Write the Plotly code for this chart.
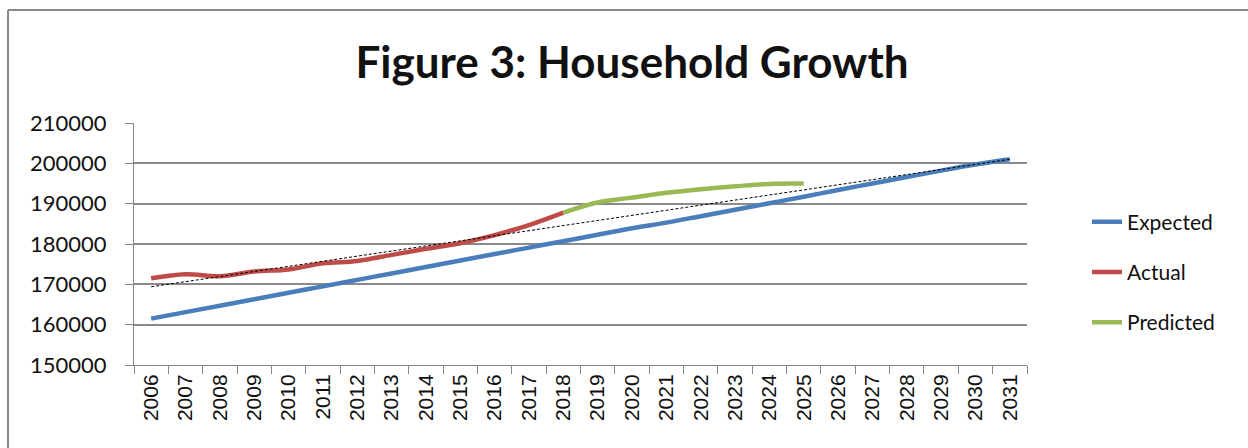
import plotly.graph_objects as go

years = [str(y) for y in range(2006, 2032)]

expected = [161500, 163100, 164700, 166300, 167900, 169500, 171100, 172700,
            174300, 175900, 177500, 179100, 180700, 182300, 183900, 185300,
            186900, 188500, 190100, 191700, 193400, 195000, 196600, 198200,
            199700, 201000]

actual_years = [str(y) for y in range(2006, 2019)]
actual = [171500, 172500, 172000, 173200, 173700, 175200, 175800, 177300,
          178800, 180200, 182200, 184700, 187800]

predicted_years = [str(y) for y in range(2018, 2026)]
predicted = [187800, 190300, 191500, 192700, 193600, 194300, 194900, 195000]

trend_years = ["2006", "2031"]
trend = [169400, 201000]

y_ticks = [150000, 160000, 170000, 180000, 190000, 200000, 210000]

fig = go.Figure()
fig.add_trace(go.Scatter(x=years, y=expected, name="Expected", mode="lines",
                         line=dict(color="#4A7EBB", width=4.5, shape="spline"),
                         legendgroup="a"))
fig.add_trace(go.Scatter(x=actual_years, y=actual, name="Actual", mode="lines",
                         line=dict(color="#BE4B48", width=4.5, shape="spline"),
                         legendgroup="b"))
fig.add_trace(go.Scatter(x=predicted_years, y=predicted, name="Predicted", mode="lines",
                         line=dict(color="#98B954", width=4.5, shape="spline"),
                         legendgroup="c"))
fig.add_trace(go.Scatter(x=trend_years, y=trend, mode="lines", showlegend=False,
                         line=dict(color="#000000", width=1, dash="3px,2px")))

L, R, T, B = 134, 221, 123, 83
W, H = 1248, 448
pw, ph = W - L - R, H - T - B

def px_x(x):
    return (x - L) / pw

def px_y(y):
    return (H - B - y) / ph

fig.update_layout(
    width=W, height=H,
    margin=dict(l=L, r=R, t=T, b=B),
    paper_bgcolor="white", plot_bgcolor="white",
    title=dict(text="<b>Figure 3: Household Growth</b>", xref="container", yref="container",
               x=632 / W, xanchor="center", y=1 - 63 / H, yanchor="middle",
               font=dict(family="Lato", size=44, color="#111111")),
    xaxis=dict(type="category", categoryorder="array", categoryarray=years,
               tickmode="array", tickvals=years, ticktext=years,
               tickangle=-90, tickson="boundaries", ticks="outside", ticklen=8,
               tickcolor="#868686", showline=True, linecolor="#868686", linewidth=1,
               showgrid=False, range=[-0.5, 25.5],
               tickfont=dict(family="Liberation Sans", size=21, color="#111111")),
    yaxis=dict(range=[150000, 210000], tickvals=y_ticks,
               ticktext=[str(v) for v in y_ticks],
               showgrid=True, gridcolor="#8A8A8A", gridwidth=1.5,
               showline=True, linecolor="#868686", linewidth=1,
               ticks="outside", ticklen=8, tickcolor="#868686",
               ticklabelstandoff=14, zeroline=False,
               tickfont=dict(family="Lato", size=22, color="#111111")),
    legend=dict(x=px_x(1087), xanchor="left", y=px_y(272), yanchor="middle",
                font=dict(family="Lato", size=21, color="#111111"),
                tracegroupgap=20, bgcolor="rgba(0,0,0,0)"),
    showlegend=True,
)

fig.add_shape(type="line", xref="paper", yref="paper",
              x0=px_x(8), x1=px_x(1248), y0=px_y(10), y1=px_y(10),
              line=dict(color="#8A8A8A", width=2))
fig.add_shape(type="line", xref="paper", yref="paper",
              x0=px_x(8), x1=px_x(8), y0=px_y(10), y1=px_y(448),
              line=dict(color="#8A8A8A", width=2))

fig.write_html("out.html")
